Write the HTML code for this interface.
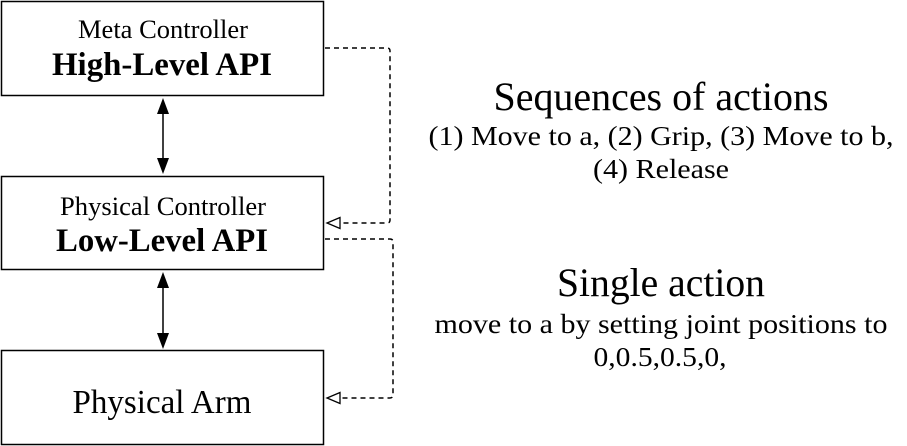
<!DOCTYPE html>
<html><head><meta charset="utf-8"><style>
html,body{margin:0;padding:0;background:#fff;}
svg{display:block;font-family:"Liberation Serif",serif;}
</style></head><body>
<svg width="907" height="446" viewBox="0 0 907 446">
<g>
<rect x="1.5" y="1.5" width="322" height="94" fill="#fff" stroke="#000" stroke-width="1.5"/>
<text x="163" y="38" font-size="26" text-anchor="middle" textLength="170" lengthAdjust="spacingAndGlyphs">Meta Controller</text>
<text x="162" y="75" font-size="33" font-weight="bold" text-anchor="middle" textLength="220" lengthAdjust="spacingAndGlyphs">High-Level API</text>
</g>
<g>
<rect x="1.5" y="176.5" width="322" height="93" fill="#fff" stroke="#000" stroke-width="1.5"/>
<text x="163" y="215" font-size="26" text-anchor="middle" textLength="206" lengthAdjust="spacingAndGlyphs">Physical Controller</text>
<text x="162" y="251" font-size="33" font-weight="bold" text-anchor="middle" textLength="212" lengthAdjust="spacingAndGlyphs">Low-Level API</text>
</g>
<g>
<rect x="1.5" y="350.5" width="322" height="94" fill="#fff" stroke="#000" stroke-width="1.5"/>
<text x="162" y="413" font-size="34" text-anchor="middle" textLength="179" lengthAdjust="spacingAndGlyphs">Physical Arm</text>
</g>
<line x1="163" y1="107" x2="163" y2="164" stroke="#000" stroke-width="1.5"/>
<path d="M157,114 L163,98 L169,114 z M157,158 L163,174 L169,158 z" fill="#000"/>
<line x1="163" y1="282" x2="163" y2="338" stroke="#000" stroke-width="1.5"/>
<path d="M157,288 L163,272 L169,288 z M157,333 L163,349 L169,333 z" fill="#000"/>
<path d="M325,48 L387,48 Q390,48 390,51 L390,220 Q390,223 387,223 L341,223" fill="none" stroke="#000" stroke-width="1.5" stroke-dasharray="5,4"/>
<path d="M340,217.5 L327,223 L340,228.5 z" fill="#fff" stroke="#000" stroke-width="1.3"/>
<path d="M325,239 L390,239 Q393,239 393,242 L393,395 Q393,398 390,398 L341,398" fill="none" stroke="#000" stroke-width="1.5" stroke-dasharray="5,4"/>
<path d="M340,392.5 L327,398 L340,403.5 z" fill="#fff" stroke="#000" stroke-width="1.3"/>
<g text-anchor="middle">
<text x="661" y="110" font-size="40" textLength="335" lengthAdjust="spacingAndGlyphs">Sequences of actions</text>
<text x="661" y="145" font-size="27" textLength="465" lengthAdjust="spacingAndGlyphs">(1) Move to a, (2) Grip, (3) Move to b,</text>
<text x="661" y="178" font-size="27" textLength="136" lengthAdjust="spacingAndGlyphs">(4) Release</text>
</g>
<g text-anchor="middle">
<text x="661" y="296" font-size="40" textLength="208" lengthAdjust="spacingAndGlyphs">Single action</text>
<text x="661" y="333" font-size="27" textLength="453" lengthAdjust="spacingAndGlyphs">move to a by setting joint positions to</text>
<text x="660" y="366" font-size="27" textLength="133" lengthAdjust="spacingAndGlyphs">0,0.5,0.5,0,</text>
</g>
</svg>
</body></html>
